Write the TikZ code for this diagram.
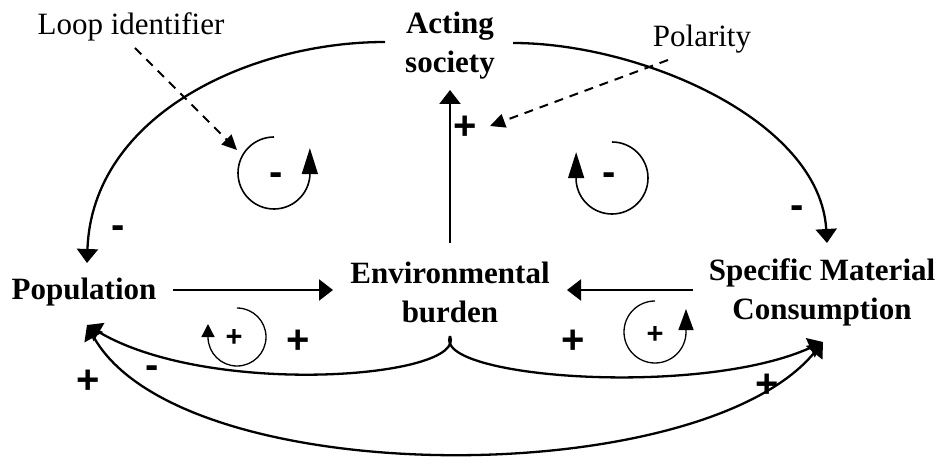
\documentclass[tikz,border=0pt]{standalone}
\usepackage{fontspec}
\setmainfont{Liberation Serif}
\newfontfamily\signfont{Liberation Sans}
\usetikzlibrary{arrows.meta}
\begin{document}
\begin{tikzpicture}[x=1pt,y=1pt,
  var/.style={font=\bfseries\fontsize{31}{39}\selectfont, align=center, inner sep=0pt},
  lbl/.style={font=\fontsize{31}{36}\selectfont, inner sep=0pt, anchor=base},
  bigsign/.style={font=\signfont\bfseries\fontsize{40}{40}\selectfont, inner sep=0pt},
  smallsign/.style={font=\signfont\bfseries\fontsize{29}{29}\selectfont, inner sep=0pt},
  link/.style={line width=2.3pt, -{Triangle[length=14pt,width=21pt]}},
  biglink/.style={line width=2.3pt, {Triangle[length=14pt,width=21pt]}-{Triangle[length=14pt,width=21pt]}},
  pointer/.style={line width=2pt, dash pattern=on 9pt off 7pt, -{Triangle[length=15pt,width=14pt]}},
  loopA/.style={line width=1.6pt, -{Triangle[length=26pt,width=16pt]}},
  loopB/.style={line width=1.3pt, -{Triangle[length=13pt,width=13pt]}},
  loopC/.style={line width=1.3pt, -{Triangle[length=21pt,width=15pt]}}
]
\useasboundingbox (0,0) rectangle (940,-457);

% variables
\node[var] (act) at (450,-46) {Acting\\society};
\node[var] (pop) at (84,-292) {Population};
\node[var] (env) at (450,-292) {Environmental\\burden};
\node[var] (smc) at (822,-292) {Specific Material\\Consumption};

% labels
\node[lbl] (loopid) at (131,-35) {Loop identifier};
\node[lbl] (pol) at (702,-47) {Polarity};

% anchor coordinates
\coordinate (popR) at (173,-290);
\coordinate (envL) at (333,-290);
\coordinate (smcL) at (693,-290);
\coordinate (envR) at (567,-290);
\coordinate (envT) at (450,-243);
\coordinate (actB) at (450,-90);
\coordinate (actL) at (385,-42);
\coordinate (actR) at (513,-43);
\coordinate (popT) at (87,-263);
\coordinate (smcT) at (827,-243);
\coordinate (envB) at (450,-336);
\coordinate (popB) at (87,-325);
\coordinate (smcB) at (823,-342);
\coordinate (loopidE) at (135,-48);
\coordinate (loopidT) at (237,-150);
\coordinate (polE) at (668,-60);
\coordinate (polT) at (490,-126);

% straight links
\draw[link] (popR) -- (envL);
\draw[link] (smcL) -- (envR);
\draw[link] (envT) -- (actB);

% curved links from acting society
\draw[link] (actL) .. controls (250,-42) and (92,-115) .. (popT);
\draw[link] (actR) .. controls (640,-43) and (820,-120) .. (smcT);

% environmental burden to population / SMC
\draw[link] (envB) .. controls (468,-378) and (210,-398) .. (popB);
\draw[link] (envB) .. controls (432,-378) and (700,-398) .. (smcB);

% population <-> SMC
\draw[biglink] (popB) .. controls (180,-492) and (700,-492) .. (smcB);

% pointers
\draw[pointer] (loopidE) -- (loopidT);
\draw[pointer] (polE) -- (polT);

% loop identifiers
\draw[loopA] (274,-137) arc[start angle=90, end angle=355, radius=36] -- ++(0,28);
\draw[loopA] (612,-142) arc[start angle=90, end angle=-175, radius=36] -- ++(0,29);
\draw[loopB] (237,-308) arc[start angle=90, end angle=-180, radius=29] -- ++(0,13);
\draw[loopC] (655,-301) arc[start angle=90, end angle=360, radius=31] -- ++(0,23);

% polarities
\node[bigsign] (s1) at (465,-128) {+};
\node[bigsign] (s2) at (118,-232) {-};
\node[bigsign] (s3) at (797,-212) {-};
\node[bigsign] (s4) at (276,-179) {-};
\node[bigsign] (s5) at (609,-179) {-};
\node[bigsign] (s6) at (298,-342) {+};
\node[bigsign] (s7) at (573,-342) {+};
\node[smallsign] (s8) at (234,-338) {+};
\node[smallsign] (s9) at (655,-335) {+};
\node[bigsign] (s10) at (88,-382) {+};
\node[bigsign] (s11) at (152,-372) {-};
\node[bigsign] (s12) at (767,-386) {+};
\end{tikzpicture}
\end{document}
